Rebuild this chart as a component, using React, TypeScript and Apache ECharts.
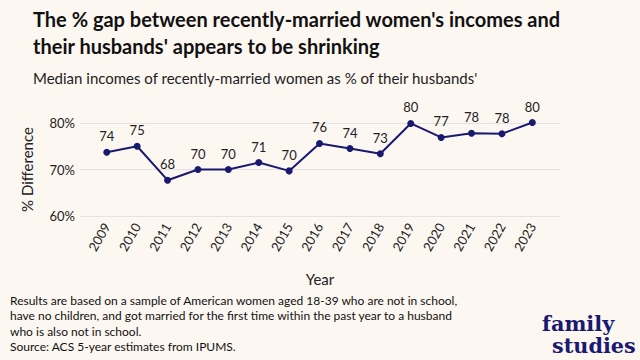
import React, { useEffect, useRef } from "react";
import * as echarts from "echarts";

const years = [2009, 2010, 2011, 2012, 2013, 2014, 2015, 2016, 2017, 2018, 2019, 2020, 2021, 2022, 2023];
const values = [73.7, 75.0, 67.7, 70.0, 70.0, 71.5, 69.7, 75.6, 74.5, 73.4, 79.9, 76.9, 77.8, 77.7, 80.1];
const labels = ["74", "75", "68", "70", "70", "71", "70", "76", "74", "73", "80", "77", "78", "78", "80"];
const yTicks = [60, 70, 80];

const titleText = "The % gap between recently-married women's incomes and\ntheir husbands' appears to be shrinking";
const subtitleText = "Median incomes of recently-married women as % of their husbands'";
const footnoteText =
  "Results are based on a sample of American women aged 18-39 who are not in school,\nhave no children, and got married for the first time within the past year to a husband\nwho is also not in school.\nSource: ACS 5-year estimates from IPUMS.";

const FONT = "Lato, 'Noto Sans', sans-serif";
const LOGO_FONT = "bold 21px 'DejaVu Serif Condensed', 'DejaVu Serif', serif";
const NAVY = "#191970";

export default function App() {
  const ref = useRef<HTMLDivElement>(null);
  useEffect(() => {
    if (!ref.current) return;
    const chart = echarts.init(ref.current, null, { renderer: "svg" });
    chart.setOption({
      animation: false,
      backgroundColor: "#fdf7f2",
      textStyle: { fontFamily: FONT },
      grid: { left: 80, right: 80, top: 123, bottom: 144, containLabel: false },
      xAxis: {
        type: "value",
        min: 2008.12,
        max: 2023.91,
        name: "Year",
        nameLocation: "middle",
        nameGap: 55,
        nameTextStyle: { fontSize: 15, color: "#222", fontFamily: FONT },
        axisLine: { show: false },
        axisTick: { show: false },
        splitLine: { show: false },
        axisLabel: {
          customValues: years,
          rotate: 60,
          fontSize: 13,
          color: "#222",
          margin: 8,
          fontFamily: FONT,
          formatter: (v: number) => String(Math.round(v)),
        },
      },
      yAxis: {
        type: "value",
        min: 60,
        max: 80,
        interval: 10,
        name: "% Difference",
        nameLocation: "middle",
        nameRotate: 90,
        nameGap: 46,
        nameTextStyle: { fontSize: 15, color: "#222", fontFamily: FONT },
        axisLine: { show: false },
        axisTick: { show: false },
        axisLabel: {
          customValues: yTicks,
          fontSize: 13,
          color: "#222",
          margin: 5,
          fontFamily: FONT,
          formatter: (v: number) => v + "%",
        },
        splitLine: { show: true, lineStyle: { color: "#e3e3e6", width: 1 } },
      },
      series: [
        {
          type: "line",
          clip: false,
          data: years.map((y, i) => [y, values[i]]),
          symbol: "circle",
          symbolSize: 7,
          itemStyle: { color: NAVY },
          lineStyle: { color: NAVY, width: 2 },
          label: {
            show: true,
            position: "top",
            distance: 6,
            fontSize: 13,
            color: "#222",
            fontFamily: FONT,
            formatter: (p: any) => labels[p.dataIndex],
          },
        },
      ],
      graphic: [
        {
          type: "text",
          left: 33,
          top: 5,
          style: {
            text: titleText,
            font: `bold 20px ${FONT}`,
            fill: "#111",
            lineHeight: 27,
          },
        },
        {
          type: "text",
          left: 33,
          top: 70,
          style: {
            text: subtitleText,
            font: `15px ${FONT}`,
            fill: "#222",
          },
        },
        {
          type: "text",
          left: 10,
          top: 293,
          style: {
            text: footnoteText,
            font: `12px ${FONT}`,
            fill: "#111",
            lineHeight: 15.3,
          },
        },
        {
          type: "text",
          x: 542,
          y: 323,
          scaleX: 1.1,
          style: {
            text: "family",
            font: LOGO_FONT,
            fill: NAVY,
            align: "left",
            verticalAlign: "middle",
          },
        },
        {
          type: "text",
          x: 552,
          y: 345,
          scaleX: 1.1,
          style: {
            text: "studies",
            font: LOGO_FONT,
            fill: NAVY,
            align: "left",
            verticalAlign: "middle",
          },
        },
      ],
    });
    return () => chart.dispose();
  }, []);
  return (
    <div
      ref={ref}
      style={{ position: "fixed", left: 0, top: 0, width: 640, height: 360 }}
    />
  );
}
